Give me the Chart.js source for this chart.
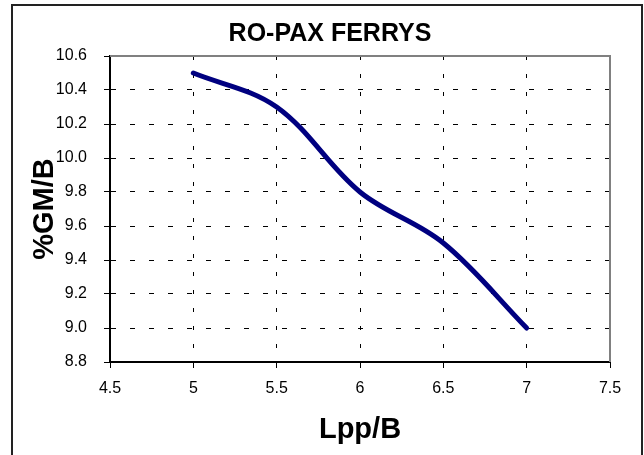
<!DOCTYPE html>
<html>
<head>
<meta charset="utf-8">
<script src="https://cdn.jsdelivr.net/npm/chart.js@4/dist/chart.umd.min.js"></script>
<style>
  html, body { margin: 0; padding: 0; background: #fff; }
  #wrap { width: 644px; height: 455px; position: relative; }
</style>
</head>
<body>
<div id="wrap"><canvas id="ferryChart"></canvas></div>
<script>
// data
const chartTitle = 'RO-PAX FERRYS';
const lppB = [5, 5.5, 6, 6.5, 7];
const gmPercent = [10.5, 10.3, 9.8, 9.5, 9.0];
const xTitle = 'Lpp/B';
const yTitle = '%GM/B';
const xRange = [4.5, 7.5];
const yRange = [8.8, 10.6];

const points = lppB.map((x, i) => ({ x: x, y: gmPercent[i] }));

// frame, plot border and title (Excel look)
const framePlugin = {
  id: 'frame',
  afterDraw(chart) {
    const ctx = chart.ctx;
    const a = chart.chartArea;
    ctx.save();
    ctx.strokeStyle = '#808080';
    ctx.lineWidth = 2;
    ctx.beginPath();
    ctx.moveTo(a.left, a.top);
    ctx.lineTo(a.right, a.top);
    ctx.lineTo(a.right, a.bottom);
    ctx.stroke();
    ctx.strokeStyle = '#222';
    ctx.lineWidth = 2;
    ctx.strokeRect(12, 5, 630, 460);
    ctx.fillStyle = '#000';
    ctx.font = 'bold 25px "Liberation Sans", Arial, sans-serif';
    ctx.textAlign = 'center';
    ctx.textBaseline = 'middle';
    ctx.fillText(chartTitle, 330, 34);
    ctx.restore();
  }
};

new Chart(document.getElementById('ferryChart'), {
  type: 'line',
  data: {
    datasets: [{
      data: points,
      borderColor: '#000080',
      borderWidth: 5,
      borderCapStyle: 'round',
      borderJoinStyle: 'round',
      pointRadius: 0,
      pointHoverRadius: 0,
      tension: 0.35,
      fill: false
    }]
  },
  options: {
    responsive: true,
    maintainAspectRatio: false,
    animation: false,
    events: [],
    layout: { padding: { left: 12, right: 34, top: 56, bottom: 0 } },
    plugins: {
      legend: { display: false },
      tooltip: { enabled: false }
    },
    scales: {
      x: {
        type: 'linear',
        min: xRange[0],
        max: xRange[1],
        afterFit: (s) => { s.height = 93; },
        ticks: {
          stepSize: 0.5,
          color: '#000',
          padding: 11,
          maxRotation: 0,
          font: { family: '"Liberation Sans", Arial, sans-serif', size: 16 },
          callback: (v) => String(v)
        },
        grid: { color: '#000', lineWidth: 1, tickLength: 6, tickColor: '#000', tickBorderDash: [] },
        border: { display: true, color: '#000', width: 2, dash: [4, 14] },
        title: {
          display: true,
          text: xTitle,
          color: '#000',
          padding: { top: 0, bottom: 8 },
          font: { family: '"Liberation Sans", Arial, sans-serif', size: 29, weight: 'bold', lineHeight: 1.2 }
        }
      },
      y: {
        min: yRange[0],
        max: yRange[1],
        afterFit: (s) => { s.width = 98; },
        ticks: {
          stepSize: 0.2,
          color: '#000',
          padding: 17,
          font: { family: '"Liberation Sans", Arial, sans-serif', size: 16 },
          callback: (v) => Number(v).toFixed(1)
        },
        grid: { color: '#000', lineWidth: 1, tickLength: 6, tickColor: '#000', tickBorderDash: [] },
        border: { display: true, color: '#000', width: 2, dash: [5, 14] },
        title: {
          display: true,
          text: yTitle,
          color: '#000',
          padding: { top: 16, bottom: 0 },
          font: { family: '"Liberation Sans", Arial, sans-serif', size: 29, weight: 'bold', lineHeight: 1.2 }
        }
      }
    }
  },
  plugins: [framePlugin]
});
</script>
</body>
</html>
